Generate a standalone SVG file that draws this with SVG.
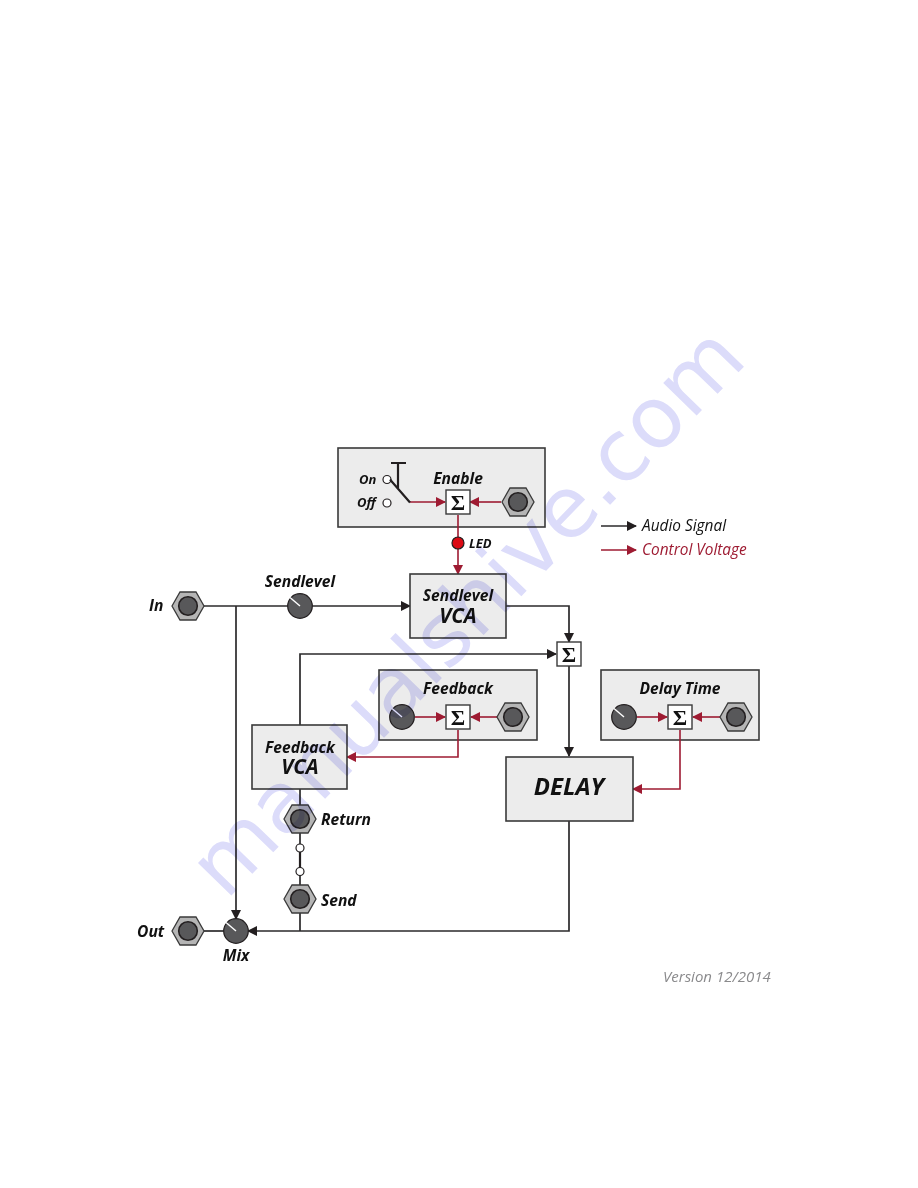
<svg xmlns="http://www.w3.org/2000/svg" width="918" height="1188" viewBox="0 0 918 1188">
<defs>
<marker id="ah" markerUnits="userSpaceOnUse" markerWidth="11" markerHeight="11" refX="9" refY="5" orient="auto"><path d="M0 0L10 5L0 10z" fill="#231f20"/></marker>
<marker id="ar" markerUnits="userSpaceOnUse" markerWidth="11" markerHeight="11" refX="9" refY="5" orient="auto"><path d="M0 0L10 5L0 10z" fill="#9e1b32"/></marker>
<g id="jack"><path d="M-16 0L-8 -14H8L16 0L8 14H-8Z" fill="#b5b5b5" stroke="#3a3a3a" stroke-width="1.3"/><circle r="9.3" fill="#58585a" stroke="#231f20" stroke-width="1.6"/></g>
<g id="knob"><circle r="12.3" fill="#58585a" stroke="#231f20" stroke-width="1.2"/><path d="M-10 -8.500L0 0" stroke="#fff" stroke-width="1.4"/></g>
<g id="sum"><rect x="-12" y="-12" width="24" height="24" fill="#fff" stroke="#3a3a3a" stroke-width="1.4"/><text class="sg" y="7.5">Σ</text></g>
</defs>
<style>
.box{fill:#ececec;stroke:#3a3a3a;stroke-width:1.6}
.a{fill:none;stroke:#2b2a2b;stroke-width:1.7}
.c{fill:none;stroke:#9e1b32;stroke-width:1.6}
text{font-family:"Open Sans","DejaVu Sans",sans-serif;font-style:italic;font-weight:700;fill:#111}
.l{font-size:15.600px}
.m{text-anchor:middle}
.s{font-size:13px}
.b{font-size:20.500px;text-anchor:middle}
.sg{font-family:"Liberation Serif",serif;font-style:normal;font-weight:700;font-size:22px;text-anchor:middle}
.n{font-weight:400;font-size:15.400px}
.w{fill:#dcdcfa;font-family:"DejaVu Sans",sans-serif;font-style:normal;font-weight:400;font-size:85px;mix-blend-mode:multiply}
</style>
<rect width="918" height="1188" fill="#fff"/>

<!-- module panels -->
<g id="enable-panel"><rect class="box" x="338" y="448" width="207" height="79"/></g>
<g id="feedback-panel"><rect class="box" x="379" y="670" width="158" height="70"/></g>
<g id="delaytime-panel"><rect class="box" x="601" y="670" width="158" height="70"/></g>

<g id="connectors">
<path class="a" d="M204 606H410" marker-end="url(#ah)"/>
<path class="a" d="M236 606V919" marker-end="url(#ah)"/>
<path class="a" d="M506 606H569V642" marker-end="url(#ah)"/>
<path class="a" d="M300 725V654H556" marker-end="url(#ah)"/>
<path class="a" d="M569 666V756" marker-end="url(#ah)"/>
<path class="a" d="M569 821V931H248" marker-end="url(#ah)"/>
<path class="a" d="M300 789V808M300 830V848M300 871V885M300 912V931"/>
<path d="M300 848V871" fill="none" stroke="#231f20" stroke-width="2.200"/>
<path class="a" d="M204 931H224"/>
<path class="c" d="M410 502H445" marker-end="url(#ar)"/>
<path class="c" d="M501 502H470" marker-end="url(#ar)"/>
<path class="c" d="M458 515V574" marker-end="url(#ar)"/>
<path class="c" d="M415 717H445" marker-end="url(#ar)"/>
<path class="c" d="M498 717H471" marker-end="url(#ar)"/>
<path class="c" d="M458 730V757H347" marker-end="url(#ar)"/>
<path class="c" d="M637 717H667" marker-end="url(#ar)"/>
<path class="c" d="M720 717H693" marker-end="url(#ar)"/>
<path class="c" d="M680 730V789H633" marker-end="url(#ar)"/>
<path class="a" d="M601 526H636" marker-end="url(#ah)"/>
<path class="c" d="M601 550H636" marker-end="url(#ar)"/>
</g>

<g id="enable">
<text class="l m" x="458" y="484">Enable</text>
<text class="s" x="359" y="484">On</text><text class="s" x="357" y="507">Off</text>
<circle cx="387" cy="479.500" r="4" fill="#fff" stroke="#231f20" stroke-width="1.2"/>
<circle cx="387" cy="503" r="4" fill="#fff" stroke="#231f20" stroke-width="1.2"/>
<path d="M391 463H406M398 463V488M390 479.500L410 502.500" fill="none" stroke="#231f20" stroke-width="2.200"/>
<use href="#sum" x="458" y="502"/>
<use href="#jack" x="518" y="502"/>
</g>
<g id="led"><circle cx="458" cy="543" r="6" fill="#dc0a14" stroke="#231f20" stroke-width="1.200"/><text class="s" x="469" y="548">LED</text></g>
<g id="in"><text class="l" x="149" y="611">In</text><use href="#jack" x="188" y="606"/></g>
<g id="sendlevel"><text class="l m" x="300" y="587">Sendlevel</text><use href="#knob" x="300" y="606"/></g>
<g id="sendlevel-vca"><rect class="box" x="410" y="574" width="96" height="64"/><text class="l m" x="458" y="601">Sendlevel</text><text class="b" x="458" y="623">VCA</text></g>
<g id="sum-main"><use href="#sum" x="569" y="654"/></g>
<g id="feedback"><text class="l m" x="458" y="694">Feedback</text><use href="#knob" x="402" y="717"/><use href="#sum" x="458" y="717"/><use href="#jack" x="513" y="717"/></g>
<g id="delay-time"><text class="l m" x="680" y="694">Delay Time</text><use href="#knob" x="624" y="717"/><use href="#sum" x="680" y="717"/><use href="#jack" x="736" y="717"/></g>
<g id="feedback-vca"><rect class="box" x="252" y="725" width="95" height="64"/><text class="l m" x="300" y="753">Feedback</text><text class="b" x="300" y="774">VCA</text></g>
<g id="delay"><rect class="box" x="506" y="757" width="127" height="64"/><text class="m" x="569" y="795" style="font-size:24px">DELAY</text></g>
<g id="return"><use href="#jack" x="300" y="819"/><text class="l" x="321" y="825">Return</text></g>
<g id="normal-switch"><circle cx="300" cy="848" r="4" fill="#fff" stroke="#231f20" stroke-width="1.200"/><circle cx="300" cy="871.500" r="4" fill="#fff" stroke="#231f20" stroke-width="1.200"/></g>
<g id="send"><use href="#jack" x="300" y="899"/><text class="l" x="321" y="906">Send</text></g>
<g id="out"><text class="l" x="137" y="937">Out</text><use href="#jack" x="188" y="931"/></g>
<g id="mix"><use href="#knob" x="236" y="931"/><text class="l m" x="236" y="961">Mix</text></g>
<g id="legend"><text class="n" x="642" y="531">Audio Signal</text><text class="n" x="642" y="555" style="fill:#9e1b32">Control Voltage</text></g>
<text class="n" x="663" y="982" style="fill:#8a8a8c;font-size:15px">Version 12/2014</text>

<!-- diagonal page stamp, tinted over the artwork -->
<text class="w" transform="translate(226 901) rotate(-45.900)">manualshive.com</text>
</svg>
